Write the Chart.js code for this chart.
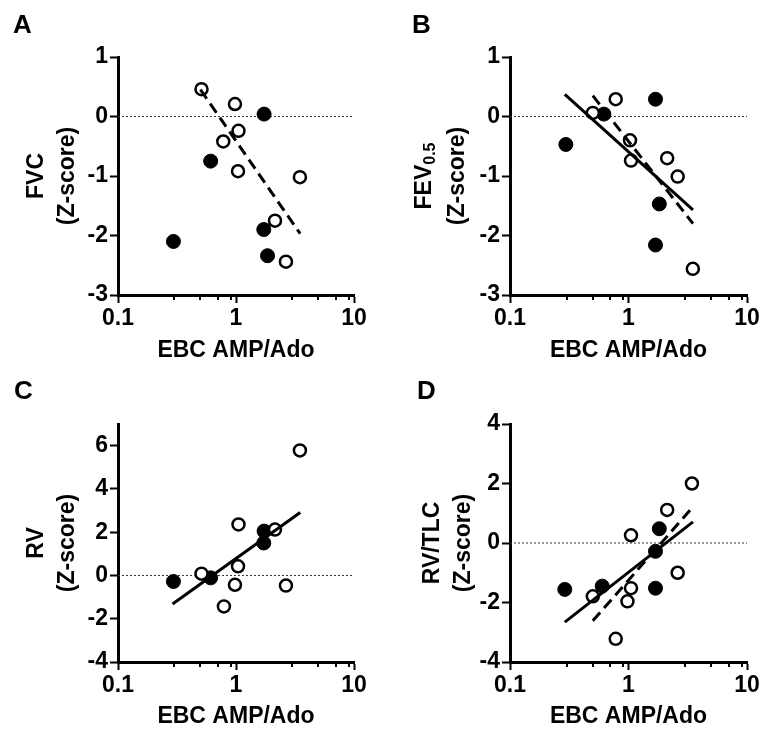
<!DOCTYPE html>
<html>
<head>
<meta charset="utf-8">
<title>EBC AMP/Ado vs lung function</title>
<script src="https://cdn.jsdelivr.net/npm/chart.js@4.4.1/dist/chart.umd.min.js"></script>
<style>
  body { margin: 0; background: #fff; }
  .panel { position: absolute; width: 381px; height: 366px; }
  .panel canvas { position: absolute; left: 0; top: 0; }
  .letter { position: absolute; font: bold 26px "Liberation Sans", Arial, sans-serif; line-height: 26px; color: #000; }
</style>
</head>
<body>
<div class="panel" style="left:0;top:0"><canvas id="chartA" width="381" height="366"></canvas><div class="letter" style="left:13px;top:11px">A</div></div>
<div class="panel" style="left:381px;top:0"><canvas id="chartB" width="381" height="366"></canvas><div class="letter" style="left:31px;top:11px">B</div></div>
<div class="panel" style="left:0;top:366px"><canvas id="chartC" width="381" height="366"></canvas><div class="letter" style="left:14px;top:11px">C</div></div>
<div class="panel" style="left:381px;top:366px"><canvas id="chartD" width="381" height="366"></canvas><div class="letter" style="left:36px;top:11px">D</div></div>
<script>
// x axis (log) shared by all panels
const xTicks = [0.1, 1, 10];
const xMinorTicks = [0.3, 0.5, 0.7, 0.9, 3, 5, 7, 9];
const zeroX = [0.1, 10];
const zeroY = [0, 0];

// A - FVC
const aOpenX = [0.51, 0.98, 1.05, 0.78, 1.04, 3.48, 2.14, 2.65];
const aOpenY = [0.46, 0.21, -0.24, -0.42, -0.92, -1.02, -1.75, -2.44];
const aFilledX = [1.73, 0.61, 1.72, 0.295, 1.85];
const aFilledY = [0.04, -0.75, -1.90, -2.10, -2.34];
const aDashX = [0.5, 3.5];
const aDashY = [0.45, -1.97];

// B - FEV0.5
const bOpenX = [0.50, 0.78, 1.03, 1.05, 2.12, 2.6, 3.49];
const bOpenY = [0.06, 0.29, -0.40, -0.74, -0.70, -1.01, -2.56];
const bFilledX = [1.69, 0.62, 0.296, 1.82, 1.69];
const bFilledY = [0.29, 0.04, -0.47, -1.47, -2.16];
const bSolidX = [0.29, 3.5];
const bSolidY = [0.37, -1.57];
const bDashX = [0.5, 3.5];
const bDashY = [0.35, -1.8];

// C - RV
const cOpenX = [0.51, 3.48, 1.05, 2.14, 1.04, 0.98, 2.65, 0.79];
const cOpenY = [0.08, 5.78, 2.36, 2.12, 0.42, -0.43, -0.47, -1.43];
const cFilledX = [0.295, 0.61, 1.73, 1.72];
const cFilledY = [-0.28, -0.11, 2.05, 1.50];
const cSolidX = [0.29, 3.5];
const cSolidY = [-1.32, 2.91];

// D - RV/TLC
const dOpenX = [3.43, 2.12, 1.05, 2.6, 1.05, 0.98, 0.5, 0.78];
const dOpenY = [2.0, 1.11, 0.26, -1.0, -1.52, -1.96, -1.79, -3.22];
const dFilledX = [1.82, 1.69, 1.69, 0.6, 0.29];
const dFilledY = [0.48, -0.28, -1.52, -1.45, -1.56];
const dSolidX = [0.29, 3.5];
const dSolidY = [-2.66, 0.71];
const dDashX = [0.5, 3.5];
const dDashY = [-2.61, 1.21];

Chart.defaults.font.family = '"Liberation Sans", Arial, Helvetica, sans-serif';
Chart.defaults.font.weight = 'bold';
Chart.defaults.color = '#000';

const FONT = 'bold 23px "Liberation Sans", Arial, sans-serif';
const SUB_FONT = 'bold 16px "Liberation Sans", Arial, sans-serif';

function pts(xs, ys) {
    return xs.map((x, i) => ({ x: x, y: ys[i] }));
}

function zeroLine() {
    return { data: pts(zeroX, zeroY), showLine: true, borderColor: '#333', borderWidth: 1,
             borderDash: [2, 2], pointRadius: 0, order: 3 };
}

function fitLine(xs, ys, dashed) {
    return { data: pts(xs, ys), showLine: true, borderColor: '#000', borderWidth: 3,
             borderDash: dashed ? [11, 6] : [], pointRadius: 0, order: 0 };
}

function openPoints(xs, ys) {
    return { data: pts(xs, ys), pointRadius: 6, pointBorderWidth: 2.5,
             pointBorderColor: '#000', pointBackgroundColor: '#fff', order: 1 };
}

function filledPoints(xs, ys) {
    return { data: pts(xs, ys), pointRadius: 7, pointBorderWidth: 1,
             pointBorderColor: '#000', pointBackgroundColor: '#000', order: 1 };
}

// short minor ticks under the x axis (3, 5, 7, 9 of each decade)
const minorTicks = {
    id: 'minorTicks',
    afterDraw(chart) {
        const { ctx, chartArea, scales } = chart;
        ctx.save();
        ctx.strokeStyle = '#000';
        ctx.lineWidth = 2;
        xMinorTicks.forEach(v => {
            const px = Math.round(scales.x.getPixelForValue(v));
            ctx.beginPath();
            ctx.moveTo(px, chartArea.bottom);
            ctx.lineTo(px, chartArea.bottom + 5);
            ctx.stroke();
        });
        ctx.restore();
    }
};

// y title with a subscript (panel B only)
const subTitle = {
    id: 'subTitle',
    afterDraw(chart, args, opts) {
        if (!opts.main) return;
        const { ctx, chartArea } = chart;
        const cy = (chartArea.top + chartArea.bottom) / 2;
        ctx.save();
        ctx.fillStyle = '#000';
        ctx.textBaseline = 'middle';
        ctx.translate(opts.x, cy);
        ctx.rotate(-Math.PI / 2);
        ctx.font = FONT;
        const w1 = ctx.measureText(opts.main).width;
        ctx.font = SUB_FONT;
        const w2 = ctx.measureText(opts.sub).width;
        const start = -(w1 + w2) / 2;
        ctx.font = FONT;
        ctx.textAlign = 'left';
        ctx.fillText(opts.main, start, 0);
        ctx.font = SUB_FONT;
        ctx.fillText(opts.sub, start + w1, 6);
        ctx.font = FONT;
        ctx.textAlign = 'center';
        ctx.fillText(opts.second, 0, opts.gap);
        ctx.restore();
    }
};

function makePanel(id, area, yMin, yMax, yStep, yTitle, titleOffset, datasets, sub) {
    const ctx = document.getElementById(id).getContext('2d');
    return new Chart(ctx, {
        type: 'scatter',
        data: { datasets: datasets },
        options: {
            responsive: false,
            animation: false,
            layout: { padding: { left: 0, top: area.top, right: 381 - area.right, bottom: 0 } },
            plugins: {
                legend: { display: false },
                tooltip: { enabled: false },
                subTitle: sub || {}
            },
            scales: {
                x: {
                    type: 'logarithmic',
                    min: 0.1,
                    max: 10,
                    afterBuildTicks: s => { s.ticks = xTicks.map(v => ({ value: v })); },
                    afterFit: s => { s.height = 366 - area.bottom; s.paddingLeft = 0; s.paddingRight = 0; },
                    ticks: { callback: v => String(v), font: { size: 23 }, padding: 2, maxRotation: 0, autoSkip: false },
                    grid: { display: true, drawOnChartArea: false, drawTicks: true, tickLength: 8, tickWidth: 2, tickColor: '#000' },
                    border: { display: true, width: 3, color: '#000' },
                    title: { display: true, text: 'EBC AMP/Ado', font: { size: 23 }, padding: { top: 0, bottom: 2 } }
                },
                y: {
                    min: yMin,
                    max: yMax,
                    afterFit: s => { s.width = area.left; s.paddingTop = 0; s.paddingBottom = 0; },
                    ticks: { stepSize: yStep, includeBounds: false, font: { size: 23 }, padding: 2 },
                    grid: { display: true, drawOnChartArea: false, drawTicks: true, tickLength: 8, tickWidth: 2, tickColor: '#000' },
                    border: { display: true, width: 3, color: '#000' },
                    title: {
                        display: !!yTitle,
                        text: yTitle || '',
                        font: { size: 23, lineHeight: 1.35 },
                        padding: { top: titleOffset, bottom: 0 }
                    }
                }
            }
        },
        plugins: [minorTicks, subTitle]
    });
}

makePanel('chartA', { left: 118, top: 57, right: 354, bottom: 295 }, -3, 1, 1,
    ['FVC', '(Z-score)'], 21, [
        fitLine(aDashX, aDashY, true),
        openPoints(aOpenX, aOpenY),
        filledPoints(aFilledX, aFilledY),
        zeroLine()
    ]);

makePanel('chartB', { left: 129, top: 57, right: 366, bottom: 295 }, -3, 1, 1,
    null, 0, [
        fitLine(bSolidX, bSolidY, false),
        fitLine(bDashX, bDashY, true),
        openPoints(bOpenX, bOpenY),
        filledPoints(bFilledX, bFilledY),
        zeroLine()
    ], { main: 'FEV', sub: '0.5', second: '(Z-score)', x: 44, gap: 33 });

makePanel('chartC', { left: 118, top: 58, right: 354, bottom: 296 }, -4, 7, 2,
    ['RV', '(Z-score)'], 21, [
        fitLine(cSolidX, cSolidY, false),
        openPoints(cOpenX, cOpenY),
        filledPoints(cFilledX, cFilledY),
        zeroLine()
    ]);

makePanel('chartD', { left: 129, top: 58, right: 366, bottom: 296 }, -4, 4, 2,
    ['RV/TLC', '(Z-score)'], 36, [
        fitLine(dSolidX, dSolidY, false),
        fitLine(dDashX, dDashY, true),
        openPoints(dOpenX, dOpenY),
        filledPoints(dFilledX, dFilledY),
        zeroLine()
    ]);
</script>
</body>
</html>
